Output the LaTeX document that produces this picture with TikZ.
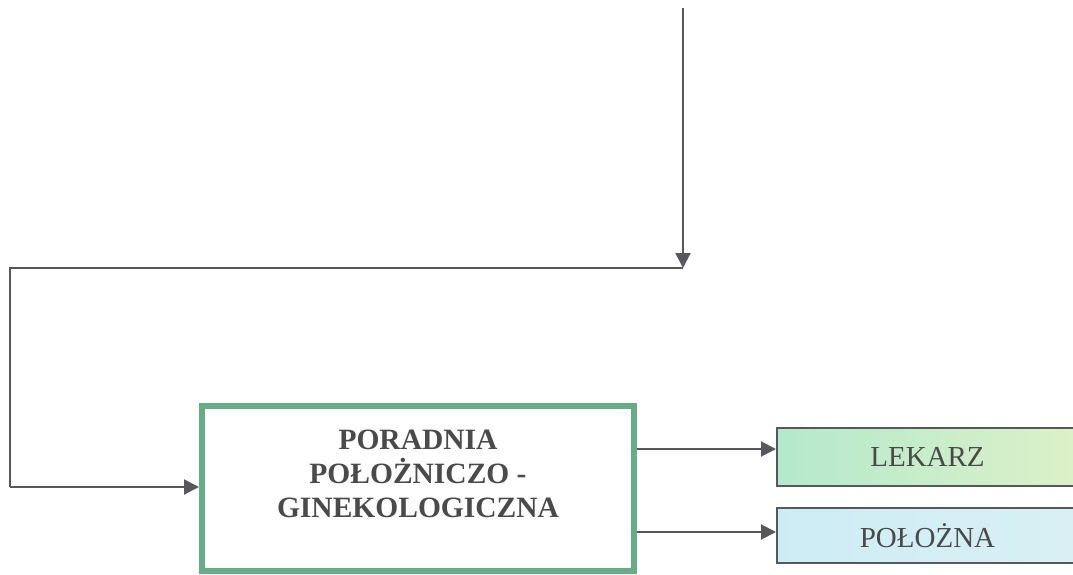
\documentclass[tikz,border=0pt]{standalone}
\usepackage{fontspec}
\setmainfont{Liberation Serif}
\usetikzlibrary{arrows.meta}
\definecolor{linegray}{HTML}{58585C}
\definecolor{textgray}{HTML}{4A4A4A}
\definecolor{boxgreen}{HTML}{6BAA86}
\definecolor{lekL}{HTML}{B4E9CC}
\definecolor{lekR}{HTML}{DCF1C8}
\definecolor{polL}{HTML}{CDEDF5}
\definecolor{polR}{HTML}{D9EFF3}
\begin{document}
\begin{tikzpicture}[x=1pt,y=-1pt,
  conn/.style={draw=linegray,line width=2pt},
  tip/.style={-{Triangle[length=15pt,width=15pt]}},
  subbox/.style={draw=linegray,line width=2pt,minimum width=301pt,
    minimum height=58pt,inner sep=0pt,text=textgray,font=\fontsize{29}{34}\selectfont}]
\clip (0,0) rectangle (1073,575);
\fill[white] (0,0) rectangle (1073,575);

% main unit
\node[draw=boxgreen,line width=6pt,minimum width=432pt,minimum height=165pt,
  inner sep=0pt] (main) at (418,488.5) {};
\node[text=textgray,align=center,font=\bfseries\fontsize{29.5}{34}\selectfont]
  (maintext) at (418,474) {PORADNIA\\POŁOŻNICZO -\\GINEKOLOGICZNA};

% staff boxes
\node[subbox,left color=lekL,right color=lekR] (lek) at (927.5,457) {LEKARZ};
\node[subbox,left color=polL,right color=polR,minimum height=55pt] (pol) at (927.5,535.5) {POŁOŻNA};

% incoming connector
\coordinate (src) at (683,8);
\coordinate (bend) at (683,268);
\coordinate (corner1) at (10,268);
\coordinate (corner2) at (10,487);
\draw[conn,tip] (src) -- (bend);
\draw[conn,line join=miter] (bend) -- (corner1) -- (corner2);
\draw[conn,tip] (corner2) -- (main.west |- corner2);

% outgoing connectors
\coordinate (lekrow) at (700,449);
\coordinate (polrow) at (700,532);
\draw[conn,tip] (main.east |- lekrow) -- (lek.west |- lekrow);
\draw[conn,tip] (main.east |- polrow) -- (pol.west |- polrow);
\end{tikzpicture}
\end{document}
